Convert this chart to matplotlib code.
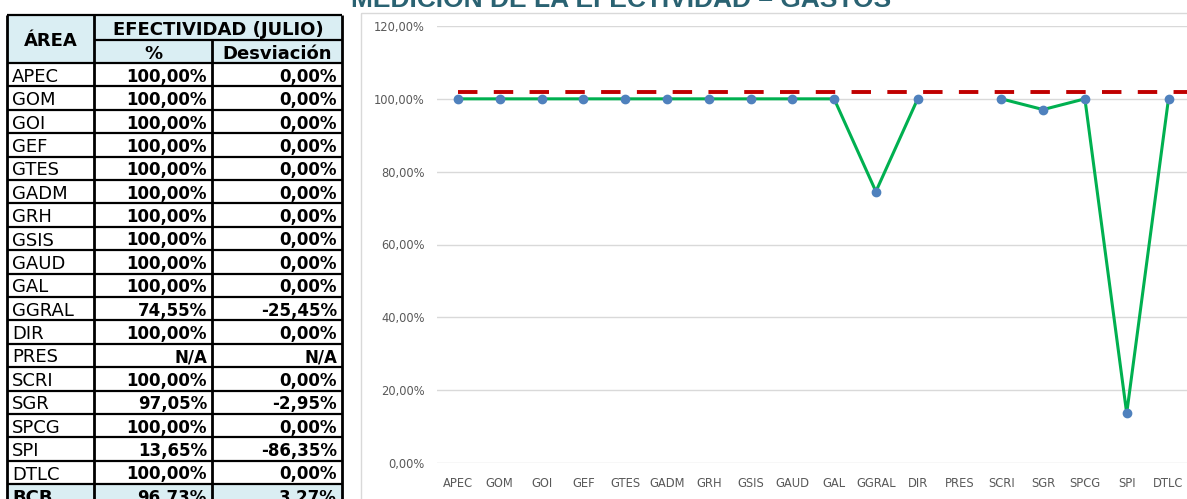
import numpy as np
import matplotlib.pyplot as plt
from matplotlib.patches import Rectangle

# data
areas = ["APEC", "GOM", "GOI", "GEF", "GTES", "GADM", "GRH", "GSIS", "GAUD",
         "GAL", "GGRAL", "DIR", "PRES", "SCRI", "SGR", "SPCG", "SPI", "DTLC"]
efectividad = [100, 100, 100, 100, 100, 100, 100, 100, 100, 100, 74.55, 100,
               np.nan, 100, 97.05, 100, 13.65, 100]
desviacion = [0, 0, 0, 0, 0, 0, 0, 0, 0, 0, -25.45, 0,
              np.nan, 0, -2.95, 0, -86.35, 0]
total_area = "BCB"
total_pct = 96.73
total_desv = 3.27
meta = 101.9
yticks = [0, 20, 40, 60, 80, 100, 120]

title = "MEDICIÓN DE LA EFECTIVIDAD – GASTOS"


def fmt(v):
    if np.isnan(v):
        return "N/A"
    return f"{v:.2f}".replace(".", ",") + "%"


W, H = 1187, 499
fig = plt.figure(figsize=(W / 100, H / 100), dpi=100)

# overlay in pixel units for the table, title and chart frame
ov = fig.add_axes([0, 0, 1, 1])
ov.set_xlim(0, W)
ov.set_ylim(H, 0)
ov.axis("off")

ov.add_patch(Rectangle((361, 13), W, H, fill=False, ec="#D9D9D9", lw=1))
ov.text(621, 7, title, ha="center", va="baseline", fontsize=19,
        weight="bold", color="#2A6272", family="Liberation Sans")

# ---- table ----
cols = [7, 94, 212, 342]
top, mid, hdr_bot, row_h = 15, 40, 63, 23.4
n = len(areas) + 1
bottom = hdr_bot + n * row_h
fill = "#DAEEF3"
ov.add_patch(Rectangle((cols[0], top), cols[3] - cols[0], hdr_bot - top, fc=fill, ec="none"))
ov.add_patch(Rectangle((cols[0], hdr_bot + len(areas) * row_h), cols[3] - cols[0], row_h,
                       fc=fill, ec="none"))

lw = 1.6
ov.hlines([top, hdr_bot] + [hdr_bot + i * row_h for i in range(1, n)],
          cols[0], cols[3], colors="black", lw=lw)
ov.hlines(mid, cols[1], cols[3], colors="black", lw=lw)
ov.vlines([cols[0], cols[1], cols[3]], top, bottom, colors="black", lw=lw + 0.4)
ov.vlines(cols[2], mid, bottom, colors="black", lw=lw + 0.4)

hkw = dict(ha="center", va="center_baseline", fontsize=13, weight="bold", color="black")
ov.text((cols[0] + cols[1]) / 2, (top + hdr_bot) / 2, "ÁREA", **hkw)
ov.text((cols[1] + cols[3]) / 2, (top + mid) / 2, "EFECTIVIDAD (JULIO)", **hkw)
ov.text((cols[1] + cols[2]) / 2, (mid + hdr_bot) / 2, "%", **hkw)
ov.text((cols[2] + cols[3]) / 2, (mid + hdr_bot) / 2, "Desviación", **hkw)

names = areas + [total_area]
pcts = efectividad + [total_pct]
desvs = desviacion + [total_desv]
for i, (a, p, d) in enumerate(zip(names, pcts, desvs)):
    yc = hdr_bot + (i + 0.5) * row_h
    last = i == len(areas)
    ov.text(cols[0] + 5, yc, a, ha="left", va="center_baseline", fontsize=13,
            weight="bold" if last else "normal")
    ov.text(cols[2] - 5, yc, fmt(p), ha="right", va="center_baseline",
            fontsize=12, weight="bold")
    ov.text(cols[3] - 5, yc, fmt(d), ha="right", va="center_baseline",
            fontsize=12, weight="bold")

# ---- line chart ----
slot = 41.8
ax = fig.add_axes([437 / W, (H - 463) / H, len(areas) * slot / W, (463 - 26) / H])
ax.patch.set_alpha(0)
x = np.arange(len(areas))
ax.plot(x, efectividad, color="#00B050", lw=2.2, marker="o", ms=6,
        mfc="#4F81BD", mec="#4F81BD", zorder=3)
ax.hlines(meta, 0, len(areas) - 0.5, colors="#C00000", lw=2.8,
          linestyles=(0, (5, 4.2)), zorder=2)

ax.set_xlim(-0.5, len(areas) - 0.5)
ax.set_ylim(0, 120)
ax.set_xticks(x)
ax.set_xticklabels(areas)
ax.set_yticks(yticks)
ax.set_yticklabels([fmt(v) for v in yticks])
ax.grid(axis="y", color="#D9D9D9", lw=1)
ax.set_axisbelow(True)
for s in ax.spines.values():
    s.set_visible(False)
ax.tick_params(axis="both", length=0, colors="#595959", labelsize=8.3)
ax.tick_params(axis="x", pad=10)
ax.tick_params(axis="y", pad=9)

fig.savefig("out.png", dpi=100)
